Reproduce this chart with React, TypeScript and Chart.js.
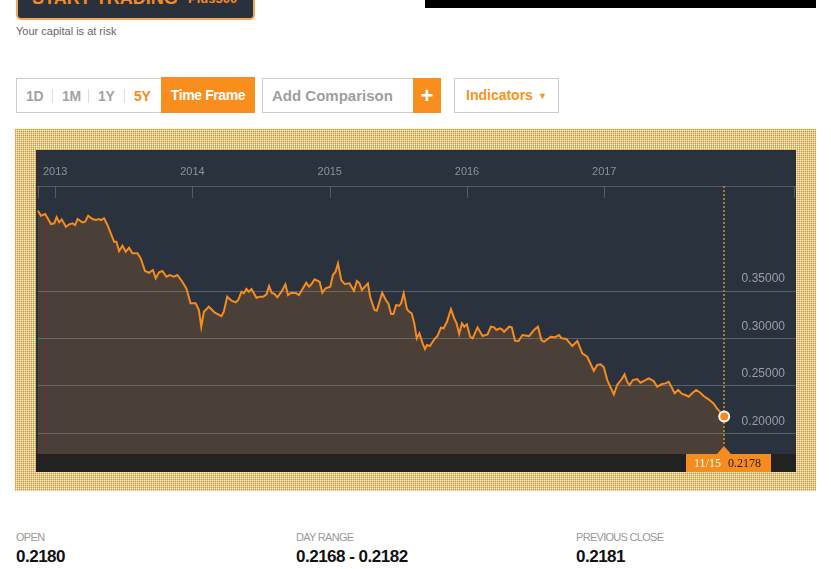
import React, { useEffect, useRef } from "react";
import { Chart, registerables } from "chart.js";

Chart.register(...registerables);

// ---- data (decimal year, price) ----
const dates = [
  2012.874, 2012.896, 2012.927, 2012.969, 2012.993, 2013.010, 2013.029, 2013.047, 2013.078, 2013.102,
  2013.126, 2013.145, 2013.163, 2013.199, 2013.218, 2013.240, 2013.272, 2013.296, 2013.320, 2013.332,
  2013.356, 2013.381, 2013.405, 2013.429, 2013.446, 2013.465, 2013.490, 2013.514, 2013.538, 2013.562,
  2013.599, 2013.623, 2013.654, 2013.683, 2013.712, 2013.732, 2013.756, 2013.781, 2013.810, 2013.834,
  2013.865, 2013.890, 2013.926, 2013.955, 2013.986, 2014.023, 2014.047, 2014.064, 2014.083, 2014.119,
  2014.163, 2014.211, 2014.228, 2014.253, 2014.284, 2014.315, 2014.333, 2014.357, 2014.374, 2014.393,
  2014.410, 2014.430, 2014.466, 2014.490, 2014.515, 2014.539, 2014.558, 2014.577, 2014.599, 2014.618,
  2014.648, 2014.677, 2014.696, 2014.720, 2014.757, 2014.776, 2014.805, 2014.829, 2014.849, 2014.866,
  2014.890, 2014.926, 2014.946, 2014.970, 2015.004, 2015.023, 2015.042, 2015.060, 2015.084, 2015.108,
  2015.144, 2015.176, 2015.198, 2015.217, 2015.234, 2015.278, 2015.294, 2015.326, 2015.343, 2015.382,
  2015.411, 2015.427, 2015.447, 2015.464, 2015.483, 2015.507, 2015.520, 2015.539, 2015.563, 2015.580,
  2015.597, 2015.616, 2015.634, 2015.653, 2015.677, 2015.694, 2015.709, 2015.730, 2015.762, 2015.786,
  2015.810, 2015.830, 2015.854, 2015.883, 2015.907, 2015.924, 2015.943, 2015.963, 2015.980, 2015.999,
  2016.023, 2016.041, 2016.077, 2016.113, 2016.150, 2016.174, 2016.198, 2016.215, 2016.239, 2016.254,
  2016.270, 2016.307, 2016.326, 2016.350, 2016.375, 2016.404, 2016.452, 2016.488, 2016.517, 2016.542,
  2016.561, 2016.610, 2016.641, 2016.670, 2016.690, 2016.724, 2016.767, 2016.804, 2016.840, 2016.876,
  2016.924, 2016.949, 2016.973, 2016.997, 2017.022, 2017.046, 2017.070, 2017.094, 2017.126, 2017.148,
  2017.167, 2017.184, 2017.208, 2017.240, 2017.264, 2017.300, 2017.324, 2017.360, 2017.385, 2017.422,
  2017.446, 2017.469, 2017.489, 2017.513, 2017.538, 2017.567, 2017.591, 2017.615, 2017.640, 2017.669,
  2017.700, 2017.724, 2017.760, 2017.796, 2017.821, 2017.874,
];

const prices = [
  0.4348, 0.4295, 0.4313, 0.4208, 0.4215, 0.4279, 0.4226, 0.4257, 0.4179, 0.4205,
  0.4215, 0.4197, 0.4261, 0.4226, 0.4232, 0.4295, 0.4261, 0.4250, 0.4261, 0.4250,
  0.4268, 0.4197, 0.4110, 0.4021, 0.4021, 0.3923, 0.3979, 0.3916, 0.3958, 0.3899,
  0.3899, 0.3846, 0.3712, 0.3694, 0.3723, 0.3635, 0.3698, 0.3712, 0.3652, 0.3670,
  0.3652, 0.3670, 0.3599, 0.3530, 0.3371, 0.3371, 0.3301, 0.3125, 0.3283, 0.3336,
  0.3272, 0.3237, 0.3283, 0.3441, 0.3399, 0.3382, 0.3406, 0.3494, 0.3477, 0.3522,
  0.3494, 0.3522, 0.3430, 0.3441, 0.3441, 0.3466, 0.3554, 0.3483, 0.3469, 0.3435,
  0.3494, 0.3572, 0.3459, 0.3483, 0.3477, 0.3459, 0.3530, 0.3589, 0.3546, 0.3572,
  0.3625, 0.3599, 0.3483, 0.3530, 0.3546, 0.3670, 0.3705, 0.3793, 0.3617, 0.3575,
  0.3582, 0.3504, 0.3607, 0.3582, 0.3512, 0.3582, 0.3441, 0.3301, 0.3293, 0.3483,
  0.3399, 0.3371, 0.3259, 0.3259, 0.3353, 0.3346, 0.3371, 0.3477, 0.3308, 0.3283,
  0.3266, 0.3160, 0.3002, 0.3055, 0.2949, 0.2889, 0.2931, 0.2921, 0.2992, 0.3030,
  0.3114, 0.3108, 0.3177, 0.3311, 0.3213, 0.3160, 0.3048, 0.3160, 0.3125, 0.3150,
  0.3019, 0.3002, 0.3118, 0.3026, 0.3044, 0.3125, 0.3118, 0.3090, 0.3108, 0.3097,
  0.3072, 0.3125, 0.3118, 0.2977, 0.2974, 0.3037, 0.3026, 0.3090, 0.3125, 0.2984,
  0.2966, 0.3019, 0.3013, 0.3037, 0.3002, 0.2995, 0.2921, 0.2974, 0.2844, 0.2808,
  0.2660, 0.2721, 0.2728, 0.2696, 0.2562, 0.2485, 0.2411, 0.2510, 0.2570, 0.2622,
  0.2544, 0.2510, 0.2562, 0.2573, 0.2534, 0.2562, 0.2580, 0.2552, 0.2492, 0.2520,
  0.2527, 0.2544, 0.2492, 0.2422, 0.2457, 0.2415, 0.2404, 0.2386, 0.2422, 0.2457,
  0.2428, 0.2393, 0.2359, 0.2316, 0.2264, 0.2178,
];

const yearTicks = [2013, 2014, 2015, 2016, 2017];
const priceTicks = [0.2, 0.25, 0.3, 0.35];
const xMin = 2012.874;
const xMax = 2018.397;
const yMin = 0.1782;
const yMax = 0.4609;

const lastDateLabel = "11/15";
const lastPriceLabel = "0.2178";
const rangeButtons = ["1D", "1M", "1Y", "5Y"];
const statLabels = ["OPEN", "DAY RANGE", "PREVIOUS CLOSE"];
const statValues = ["0.2180", "0.2168 - 0.2182", "0.2181"];

const ORANGE = "#f68b1f";
const SANS = "'Liberation Sans', Arial, sans-serif";

const framePlugin = {
  id: "frame",
  beforeDraw(chart: any) {
    const { ctx, chartArea, width, height } = chart;
    ctx.save();
    ctx.fillStyle = "#29323d";
    ctx.fillRect(0, 0, width, height);
    ctx.fillStyle = "#222222";
    ctx.fillRect(0, chartArea.bottom, width, height - chartArea.bottom);
    ctx.restore();
  },
  beforeDatasetsDraw(chart: any) {
    const { ctx, chartArea } = chart;
    const xs = chart.scales.x;
    ctx.save();
    // tick marks hanging below the top axis line
    ctx.strokeStyle = "#535b64";
    ctx.lineWidth = 1;
    const tickVals = [xMin, ...yearTicks, xMax];
    tickVals.forEach((v) => {
      let px = Math.round(xs.getPixelForValue(v)) + 0.5;
      if (px > chart.width - 1) px = chart.width - 1.5;
      ctx.beginPath();
      ctx.moveTo(px, chartArea.top);
      ctx.lineTo(px, chartArea.top + 12);
      ctx.stroke();
    });
    // dotted crosshair at last point
    const lx = Math.round(xs.getPixelForValue(dates[dates.length - 1]));
    ctx.strokeStyle = "#a47c2c";
    ctx.lineWidth = 2;
    ctx.setLineDash([2, 2]);
    ctx.beginPath();
    ctx.moveTo(lx, chartArea.top);
    ctx.lineTo(lx, chartArea.bottom - 8);
    ctx.stroke();
    ctx.restore();
  },
  afterDatasetsDraw(chart: any) {
    const { ctx, chartArea } = chart;
    const xs = chart.scales.x;
    const ys = chart.scales.y;
    ctx.save();
    // price labels, right side, above grid lines
    ctx.font = `12px ${SANS}`;
    ctx.fillStyle = "#9a9fa6";
    ctx.textAlign = "right";
    ctx.textBaseline = "middle";
    priceTicks.forEach((v) => {
      const py = ys.getPixelForValue(v);
      ctx.fillText(v.toFixed(5), chartArea.right - 11, py - 12);
    });
    // last value flag in bottom band
    const lx = Math.round(xs.getPixelForValue(dates[dates.length - 1]));
    const by = chartArea.bottom;
    ctx.fillStyle = ORANGE;
    ctx.fillRect(lx - 38, by, 85, chart.height - by);
    ctx.beginPath();
    ctx.moveTo(lx, by - 8);
    ctx.lineTo(lx + 7, by);
    ctx.lineTo(lx - 7, by);
    ctx.closePath();
    ctx.fill();
    const ty = by + (chart.height - by) / 2 + 1;
    ctx.font = "12px 'Liberation Serif', 'Times New Roman', serif";
    ctx.textAlign = "left";
    ctx.fillStyle = "#ffffff";
    ctx.fillText(lastDateLabel, lx - 30, ty);
    ctx.fillStyle = "#1e1e1e";
    ctx.fillText(lastPriceLabel, lx + 4, ty);
    ctx.restore();
  },
};

function PriceChart() {
  const ref = useRef<HTMLCanvasElement | null>(null);
  useEffect(() => {
    if (!ref.current) return;
    const points = dates.map((d, i) => ({ x: d, y: prices[i] }));
    const lastIdx = points.length - 1;
    const chart = new Chart(ref.current, {
      type: "line",
      data: {
        datasets: [
          {
            data: points,
            borderColor: ORANGE,
            borderWidth: 2,
            backgroundColor: "rgba(246,140,30,0.16)",
            fill: "start",
            tension: 0,
            pointRadius: (c: any) => (c.dataIndex === lastIdx ? 5 : 0),
            pointHoverRadius: (c: any) => (c.dataIndex === lastIdx ? 5 : 0),
            pointBackgroundColor: ORANGE,
            pointBorderColor: "#ffffff",
            pointBorderWidth: 2,
            clip: false,
          } as any,
        ],
      },
      options: {
        responsive: false,
        animation: false,
        events: [],
        layout: { autoPadding: false, padding: { left: 0, right: 0, top: 0, bottom: 18 } },
        plugins: { legend: { display: false }, tooltip: { enabled: false } },
        scales: {
          x: {
            type: "linear",
            position: "top",
            min: xMin,
            max: xMax,
            afterBuildTicks: (s: any) => {
              s.ticks = yearTicks.map((v) => ({ value: v }));
            },
            afterFit: (s: any) => {
              s.height = 36;
            },
            grid: { display: false, drawTicks: false },
            border: { display: true, color: "#535b64", width: 1 },
            ticks: {
              color: "#8b9299",
              font: { family: SANS, size: 11 },
              padding: 7,
              maxRotation: 0,
              autoSkip: false,
              callback: (v: any) => String(v),
            },
          },
          y: {
            position: "right",
            min: yMin,
            max: yMax,
            afterBuildTicks: (s: any) => {
              s.ticks = priceTicks.map((v) => ({ value: v }));
            },
            afterFit: (s: any) => {
              s.width = 0;
            },
            grid: { color: "rgba(255,255,255,0.22)", drawTicks: false, lineWidth: 1 },
            border: { display: false },
            ticks: { display: false },
          },
        },
      } as any,
      plugins: [framePlugin],
    });
    return () => chart.destroy();
  }, []);
  return (
    <canvas
      ref={ref}
      width={760}
      height={322}
      style={{ position: "absolute", left: 36, top: 150, width: 760, height: 322, display: "block" }}
    />
  );
}

// dotted orange backdrop drawn pixel by pixel
function DotFrame() {
  const ref = useRef<HTMLCanvasElement | null>(null);
  useEffect(() => {
    const c = ref.current;
    if (!c) return;
    const ctx = c.getContext("2d");
    if (!ctx) return;
    const w = c.width;
    const h = c.height;
    const img = ctx.createImageData(w, h);
    for (let y = 0; y < h; y++) {
      for (let x = 0; x < w; x++) {
        const i = (y * w + x) * 4;
        const ex = x % 2 === 0;
        const ey = y % 2 === 0;
        let r = 255, g = 250, b = 244;
        if (ex && ey) {
          r = 245; g = 140; b = 35;
        } else if (ex || ey) {
          r = 250; g = 190; b = 122;
        }
        img.data[i] = r;
        img.data[i + 1] = g;
        img.data[i + 2] = b;
        img.data[i + 3] = 255;
      }
    }
    ctx.putImageData(img, 0, 0);
  }, []);
  return (
    <canvas
      ref={ref}
      width={801}
      height={362}
      style={{ position: "absolute", left: 15, top: 129, width: 801, height: 362, display: "block" }}
    />
  );
}

const abs = (left: number, top: number, extra: React.CSSProperties = {}): React.CSSProperties => ({
  position: "absolute",
  left,
  top,
  whiteSpace: "nowrap",
  ...extra,
});

export default function App() {
  const btnX = [26, 62, 98, 134];
  const sepX = [52, 88, 124];
  const statX = [16, 296, 576];
  return (
    <div
      style={{
        position: "absolute",
        left: 0,
        top: 0,
        width: 831,
        height: 569,
        overflow: "hidden",
        background: "#ffffff",
        fontFamily: SANS,
      }}
    >
      {/* start trading button (cut off at top) */}
      <div
        style={abs(16, -22, {
          width: 239,
          height: 42,
          boxSizing: "border-box",
          border: "2px solid #f9a557",
          borderRadius: 5,
          background: "#29313c",
        })}
      />
      <div style={abs(32, -14, { fontSize: 18, fontWeight: 700, color: ORANGE, lineHeight: "24px" })}>
        START TRADING
      </div>
      <div style={abs(188, -13, { fontSize: 13, fontWeight: 700, color: ORANGE, lineHeight: "24px" })}>
        Plus500
      </div>
      <div style={abs(16, 24, { fontSize: 11, color: "#666", lineHeight: "14px" })}>Your capital is at risk</div>

      {/* black bar */}
      <div style={abs(425, 0, { width: 391, height: 8, background: "#000" })} />

      {/* time frame buttons */}
      <div
        style={abs(16, 78, {
          width: 239,
          height: 35,
          boxSizing: "border-box",
          border: "1px solid #cccccc",
        })}
      />
      {rangeButtons.map((b, i) => (
        <div
          key={b}
          style={abs(btnX[i], 86, {
            fontSize: 14,
            fontWeight: 700,
            letterSpacing: "-0.4px",
            color: b === "5Y" ? ORANGE : "#a3a3a3",
            lineHeight: "20px",
          })}
        >
          {b}
        </div>
      ))}
      {sepX.map((x) => (
        <div key={x} style={abs(x, 89, { width: 1, height: 14, background: "#dddddd" })} />
      ))}
      <div
        style={abs(161, 77, {
          width: 94,
          height: 36,
          background: "#f78e1e",
          color: "#fff",
          fontSize: 14,
          fontWeight: 700,
          letterSpacing: "-0.4px",
          lineHeight: "36px",
          textAlign: "center",
        })}
      >
        Time Frame
      </div>

      {/* add comparison */}
      <div
        style={abs(262, 78, {
          width: 152,
          height: 35,
          boxSizing: "border-box",
          border: "1px solid #cccccc",
        })}
      />
      <div style={abs(272, 85, { fontSize: 15, fontWeight: 700, color: "#9e9e9e", lineHeight: "21px" })}>
        Add Comparison
      </div>
      <div
        style={abs(413, 78, {
          width: 28,
          height: 35,
          background: "#f78e1e",
          color: "#fff",
          fontSize: 22,
          fontWeight: 700,
          lineHeight: "35px",
          textAlign: "center",
        })}
      >
        +
      </div>

      {/* indicators */}
      <div
        style={abs(454, 78, {
          width: 105,
          height: 35,
          boxSizing: "border-box",
          border: "1px solid #cccccc",
        })}
      />
      <div style={abs(466, 85, { fontSize: 14, fontWeight: 700, color: "#f7941d", lineHeight: "20px" })}>
        Indicators
      </div>
      <div style={abs(538, 86, { fontSize: 9, color: "#f7941d", lineHeight: "20px" })}>▼</div>

      {/* dotted orange frame + chart */}
      <DotFrame />
      <PriceChart />

      {/* stats */}
      {statLabels.map((l, i) => (
        <div
          key={l}
          style={abs(statX[i], 530, {
            fontSize: 11,
            letterSpacing: "-0.7px",
            color: "#999999",
            lineHeight: "14px",
          })}
        >
          {l}
        </div>
      ))}
      {statValues.map((v, i) => (
        <div
          key={v}
          style={abs(statX[i], 546, {
            fontSize: 17,
            fontWeight: 700,
            letterSpacing: "-0.5px",
            color: "#111111",
            lineHeight: "22px",
          })}
        >
          {v}
        </div>
      ))}
    </div>
  );
}
